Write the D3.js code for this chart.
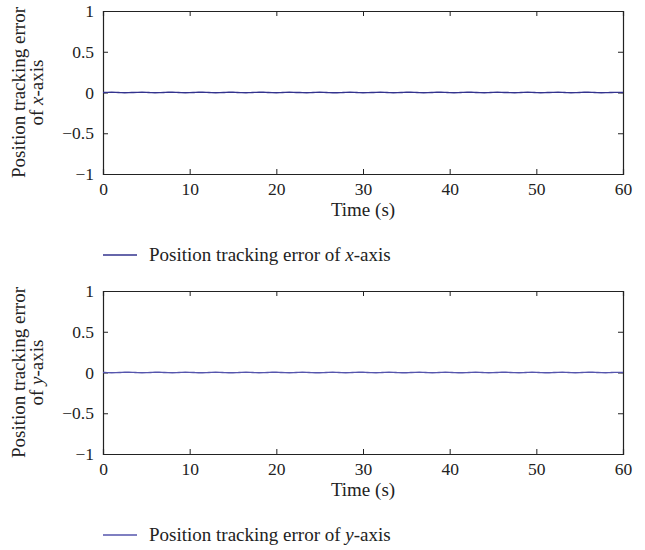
<!DOCTYPE html>
<html>
<head>
<meta charset="utf-8">
<script src="https://cdn.jsdelivr.net/npm/d3@7"></script>
<style>
  body { margin: 0; background: #fff; }
  svg text { font-family: "Liberation Serif", "DejaVu Serif", serif; fill: #222; }
</style>
</head>
<body>
<div class="chart"></div>
<script>
// sample times (s), every 0.5 s
var time = d3.range(0, 60.5, 0.5);

// position tracking errors (tiny ripple around zero)
var errX = [
  0.000, 0.002, 0.003, 0.002, -0.001, -0.003, -0.002, 0.000, 0.002, 0.003,
  0.002, -0.001, -0.003, -0.002, 0.000, 0.003, 0.003, 0.001, -0.002, -0.003,
  -0.002, 0.000, 0.003, 0.003, 0.001, -0.002, -0.003, -0.002, 0.000, 0.003,
  0.003, 0.000, -0.002, -0.003, -0.001, 0.001, 0.003, 0.003, 0.000, -0.002,
  -0.003, -0.001, 0.002, 0.003, 0.002, 0.000, -0.002, -0.003, -0.001, 0.002,
  0.003, 0.002, -0.001, -0.003, -0.003, -0.001, 0.002, 0.003, 0.002, -0.001,
  -0.003, -0.002, 0.000, 0.002, 0.003, 0.002, -0.001, -0.003, -0.002, 0.000,
  0.003, 0.003, 0.001, -0.002, -0.003, -0.002, 0.000, 0.003, 0.003, 0.001,
  -0.002, -0.003, -0.002, 0.001, 0.003, 0.003, 0.000, -0.002, -0.003, -0.001,
  0.002, 0.003, 0.002, 0.000, -0.002, -0.003, -0.001, 0.002, 0.003, 0.002,
  -0.001, -0.003, -0.002, 0.000, 0.002, 0.003, 0.002, -0.001, -0.003, -0.002,
  0.000, 0.003, 0.003, 0.001, -0.002, -0.003, -0.002, 0.000, 0.002, 0.002,
  0.000
];
var errY = [
  0.000, -0.002, -0.003, -0.002, 0.000, 0.003, 0.003, 0.001, -0.002, -0.003,
  -0.002, 0.000, 0.003, 0.003, 0.000, -0.002, -0.003, -0.002, 0.001, 0.003,
  0.002, 0.000, -0.003, -0.003, -0.001, 0.002, 0.003, 0.002, -0.001, -0.003,
  -0.003, -0.001, 0.002, 0.003, 0.002, -0.001, -0.003, -0.002, 0.000, 0.003,
  0.003, 0.000, -0.002, -0.003, -0.002, 0.001, 0.003, 0.002, -0.001, -0.003,
  -0.003, -0.001, 0.002, 0.003, 0.001, -0.002, -0.003, -0.002, 0.001, 0.003,
  0.003, 0.000, -0.002, -0.003, -0.001, 0.002, 0.003, 0.002, -0.001, -0.003,
  -0.003, 0.000, 0.002, 0.003, 0.001, -0.002, -0.003, -0.002, 0.001, 0.003,
  0.002, -0.001, -0.003, -0.003, -0.001, 0.002, 0.003, 0.002, -0.001, -0.003,
  -0.002, 0.000, 0.003, 0.003, 0.000, -0.002, -0.003, -0.002, 0.001, 0.003,
  0.002, -0.001, -0.003, -0.003, 0.000, 0.002, 0.003, 0.001, -0.002, -0.003,
  -0.002, 0.001, 0.003, 0.003, 0.000, -0.002, -0.003, -0.001, 0.001, 0.002,
  0.000
];

var xTicks = [0, 10, 20, 30, 40, 50, 60];
var yTicks = [-1, -0.5, 0, 0.5, 1];
var panels = [
  {axis: "x", values: errX, color: "#33338e", top: 11},
  {axis: "y", values: errY, color: "#5555ad", top: 291}
];

var width = 645, height = 550,
    left = 103, right = 623, plotH = 163;

var svg = d3.select(".chart").append("svg")
  .attr("width", width)
  .attr("height", height);

var xScale = d3.scaleLinear().domain([0, 60]).range([left, right]);

panels.forEach(function (p) {
  var yScale = d3.scaleLinear().domain([-1, 1]).range([p.top + plotH, p.top]);
  var g = svg.append("g");

  var fmt = d => d === 0 ? "0" : (d < 0 ? "\u2212" + Math.abs(d) : "" + d);

  // bottom & left axes with inward ticks, mirrored on top & right
  g.append("g").attr("transform", `translate(0,${p.top + plotH})`)
    .call(d3.axisBottom(xScale).tickValues(xTicks).tickSize(-5).tickPadding(9).tickFormat(fmt));
  g.append("g").attr("transform", `translate(0,${p.top})`)
    .call(d3.axisTop(xScale).tickValues(xTicks).tickSize(-5).tickFormat(""));
  g.append("g").attr("transform", `translate(${left},0)`)
    .call(d3.axisLeft(yScale).tickValues(yTicks).tickSize(-5).tickPadding(9).tickFormat(fmt));
  g.append("g").attr("transform", `translate(${right},0)`)
    .call(d3.axisRight(yScale).tickValues(yTicks).tickSize(-5).tickFormat(""));

  g.selectAll(".domain").attr("stroke", "#222").attr("stroke-width", 1.2);
  g.selectAll(".tick line").attr("stroke", "#222");
  g.selectAll(".tick text").style("font-size", "17.5px").attr("fill", "#222")
    .style("font-family", '"Liberation Serif", serif');

  // the error curve
  var line = d3.line()
    .x((d, i) => xScale(time[i]))
    .y(d => yScale(d))
    .curve(d3.curveMonotoneX);

  g.append("path")
    .datum(p.values)
    .attr("fill", "none")
    .attr("stroke", p.color)
    .attr("stroke-width", 1.4)
    .attr("d", line);

  // x-axis title
  g.append("text")
    .attr("text-anchor", "middle")
    .attr("x", (left + right) / 2)
    .attr("y", p.top + plotH + 42)
    .style("font-size", "19px")
    .text("Time (s)");

  // y-axis title, two lines
  var yt = g.append("text")
    .attr("text-anchor", "middle")
    .attr("transform", `translate(25,${p.top + plotH / 2})rotate(-90)`)
    .style("font-size", "19px");
  yt.append("tspan").attr("x", 0).attr("dy", 0).text("Position tracking error");
  var t2 = yt.append("tspan").attr("x", 0).attr("dy", 18);
  t2.append("tspan").text("of ");
  t2.append("tspan").style("font-style", "italic").text(p.axis);
  t2.append("tspan").text("-axis");

  // legend
  var ly = p.top + plotH + 81;
  g.append("line")
    .attr("x1", 103).attr("x2", 137)
    .attr("y1", ly).attr("y2", ly)
    .attr("stroke", p.color).attr("stroke-width", 1.3);
  var lt = g.append("text")
    .attr("x", 149).attr("y", ly + 6)
    .style("font-size", "19px");
  lt.append("tspan").text("Position tracking error of ");
  lt.append("tspan").style("font-style", "italic").text(p.axis);
  lt.append("tspan").text("-axis");
});
</script>
</body>
</html>
